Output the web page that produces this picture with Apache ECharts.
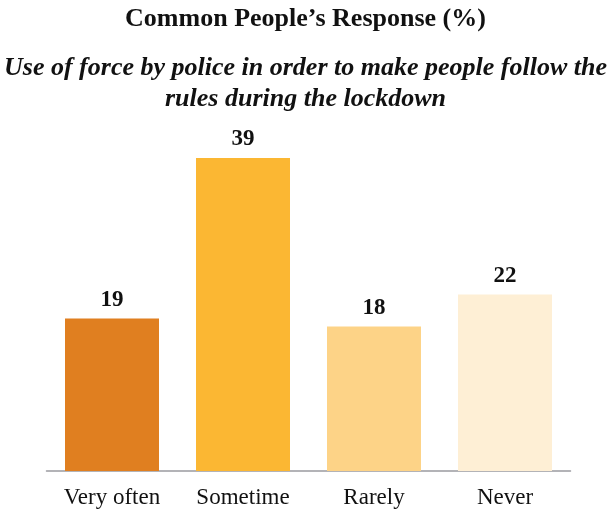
<!DOCTYPE html>
<html><head><meta charset="utf-8">
<script src="https://cdn.jsdelivr.net/npm/echarts@6/dist/echarts.min.js"></script>
<style>html,body{margin:0;padding:0;background:#fff}#c{width:611px;height:509px}</style>
</head><body><div id="c"></div>
<script>
const categories = ["Very often", "Sometime", "Rarely", "Never"];
const values = [19, 39, 18, 22];
const colors = ["#E07F20", "#FBB733", "#FDD387", "#FEEFD5"];
const titleText = "Common People\u2019s Response (%)";
const subtitleText = "Use of force by police in order to make people follow the\nrules during the lockdown";

const chart = echarts.init(document.getElementById('c'));
const serif = "'Liberation Serif', 'DejaVu Serif', serif";
chart.setOption({
  animation: false,
  title: [
    {text: titleText, left: 'center', top: 1, textStyle: {fontFamily: serif, fontWeight: 'bold', fontSize: 26, color: '#111'}},
    {text: subtitleText, left: 'center', top: 48, textStyle: {fontFamily: serif, fontWeight: 'bold', fontStyle: 'italic', fontSize: 26, lineHeight: 31, color: '#111', align: 'center'}}
  ],
  grid: {left: 46.5, width: 524, top: 150, bottom: 37},
  xAxis: {
    type: 'category', data: categories,
    axisLine: {lineStyle: {color: '#9a9aa0', width: 1.5}},
    axisTick: {show: false},
    axisLabel: {fontFamily: serif, fontSize: 23, color: '#111', margin: 15}
  },
  yAxis: {type: 'value', min: 0, max: 40, show: false, splitLine: {show: false}},
  series: [{
    type: 'bar', barWidth: 94,
    data: values.map((v, i) => ({value: v, itemStyle: {color: colors[i]}})),
    label: {show: true, position: 'top', distance: 7, fontFamily: serif, fontWeight: 'bold', fontSize: 23, color: '#111'}
  }]
});
</script></body></html>
